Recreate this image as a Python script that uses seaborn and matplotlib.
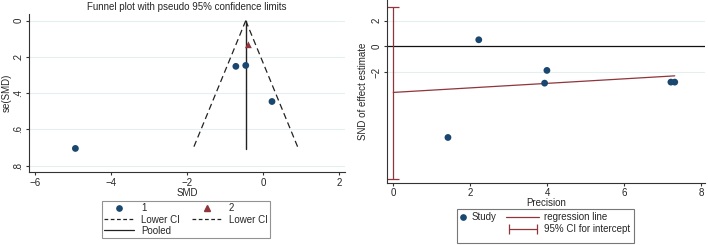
"""Funnel plot and Galbraith (radial) plot for small-study effects."""
import matplotlib
matplotlib.use("Agg")
import matplotlib.pyplot as plt
import numpy as np
import pandas as pd
import seaborn as sns
from matplotlib.lines import Line2D
from matplotlib.patches import Rectangle
from matplotlib.legend_handler import HandlerLine2D

# funnel plot data
smd = [-4.94, -0.72, -0.46, 0.23, -0.39]
se_smd = [0.705, 0.252, 0.247, 0.446, 0.133]
group = ["1", "1", "1", "1", "2"]
pooled = -0.46
se_max = 0.707

# Galbraith plot data
precision = [1.42, 2.22, 3.93, 3.99, 7.21, 7.31]
snd = [-7.08, 0.51, -2.86, -1.87, -2.78, -2.78]
reg_intercept = -3.58
reg_slope = 0.176
ci_low, ci_high = -10.27, 3.08

NAVY = "#1a476f"
MAROON = "#90353b"
GRID = "#e6eef0"
SPINE = "#333333"
FS = 7.0

sns.set_style("ticks")
plt.rcParams["font.family"] = ["Liberation Sans", "DejaVu Sans"]
plt.rcParams["font.size"] = FS

fig = plt.figure(figsize=(7.08, 2.45), dpi=100)
ax1 = fig.add_axes([29 / 708, 0.298, 316 / 708, 0.645])
ax2 = fig.add_axes([0.547, 0.254, 0.449, 0.746])


def style_axes(ax, label_x):
    for side in ("top", "right"):
        ax.spines[side].set_visible(False)
    for side in ("left", "bottom"):
        ax.spines[side].set_color(SPINE)
        ax.spines[side].set_linewidth(0.8)
    ax.tick_params(length=2.5, width=0.8, color=SPINE, labelsize=FS, pad=1.5,
                   left=True, bottom=True)
    for lab in ax.get_yticklabels():
        lab.set_rotation(90)
        lab.set_va("center")
    ax.yaxis.set_label_coords(label_x, 0.5)


# ---- funnel plot
df1 = pd.DataFrame({"smd": smd, "se": se_smd, "group": group})
ax1.set_ylim(0.835, -0.037)
ax1.set_xlim(-6.16, 2.15)
ax1.set_yticks([0, 0.2, 0.4, 0.6, 0.8])
ax1.set_yticklabels(["0", ".2", ".4", ".6", ".8"])
ax1.set_xticks([-6, -4, -2, 0, 2])
for t in [0, 0.2, 0.4, 0.6, 0.8]:
    ax1.axhline(t, color=GRID, lw=0.8, zorder=0)

se_line = [0, se_max]
sns.lineplot(x=[pooled, pooled - 1.96 * se_max], y=se_line, ax=ax1, color="#222222",
             lw=0.9, linestyle=(0, (5, 3)), sort=False)
sns.lineplot(x=[pooled, pooled + 1.96 * se_max], y=se_line, ax=ax1, color="#222222",
             lw=0.9, linestyle=(0, (5, 3)), sort=False)
sns.lineplot(x=[pooled, pooled], y=se_line, ax=ax1, color="#222222", lw=1.0,
             sort=False, orient="y")
sns.scatterplot(data=df1, x="smd", y="se", hue="group", style="group",
                markers={"1": "o", "2": "^"}, palette={"1": NAVY, "2": MAROON},
                s=24, edgecolor="none", ax=ax1, legend=False, zorder=3)
ax1.set_xlabel("SMD", labelpad=0)
ax1.set_ylabel("se(SMD)")
ax1.set_title("Funnel plot with pseudo 95% confidence limits", fontsize=FS, pad=3)
style_axes(ax1, -0.054)

h1 = [
    Line2D([], [], marker="o", color=NAVY, ls="none", ms=3.8),
    Line2D([], [], color="#222222", lw=0.9, ls=(0, (3, 2))),
    Line2D([], [], color="#222222", lw=0.9),
    Line2D([], [], marker="^", color=MAROON, ls="none", ms=3.8),
    Line2D([], [], color="#222222", lw=0.9, ls=(0, (3, 2))),
]
l1 = ["1", "Lower CI", "Pooled", "2", "Lower CI"]
leg1 = fig.legend(h1, l1, ncol=2, loc="lower left", bbox_to_anchor=(97 / 708, 2 / 245),
                  fontsize=FS, frameon=True, fancybox=False, edgecolor="#777777",
                  handlelength=3.1, columnspacing=1.2, borderpad=0.25, labelspacing=0.12,
                  handletextpad=0.7)
leg1.get_frame().set_linewidth(0.8)

# ---- Galbraith plot
df2 = pd.DataFrame({"precision": precision, "snd": snd})
ax2.set_xlim(-0.156, 8.1)
ax2.set_ylim(-10.6, 3.6)
ax2.set_xticks([0, 2, 4, 6, 8])
ax2.set_yticks([2, 0, -2])
for t in [2, -2]:
    ax2.axhline(t, color=GRID, lw=0.8, zorder=0)
ax2.axhline(0, color="#111111", lw=0.9, zorder=1)

xr = np.array([0, max(precision)])
sns.lineplot(x=xr, y=reg_intercept + reg_slope * xr, ax=ax2, color=MAROON, lw=0.9)
ax2.errorbar([0], [(ci_low + ci_high) / 2], yerr=[[(ci_high - ci_low) / 2]],
             color=MAROON, lw=0.9, capsize=4, capthick=0.9, fmt="none")
sns.scatterplot(data=df2, x="precision", y="snd", color=NAVY, s=24, edgecolor="none",
                ax=ax2, zorder=3)
ax2.set_xlabel("Precision", labelpad=0)
ax2.set_ylabel("SND of effect estimate")
style_axes(ax2, -0.061)

# right legend: two frameless legends inside one drawn box
fx0, fx1 = 457 / 708, 634 / 708
fy0, fy1 = 2 / 245, 36 / 245
fig.patches.append(Rectangle((fx0, fy0), fx1 - fx0, fy1 - fy0, transform=fig.transFigure,
                             fill=False, edgecolor="#777777", lw=0.8))
fig.legend([Line2D([], [], marker="o", color=NAVY, ls="none", ms=3.8)], ["Study"],
           loc="upper left", bbox_to_anchor=(fx0, fy1), fontsize=FS, frameon=False,
           handlelength=0.6, handletextpad=0.5, borderpad=0.35, borderaxespad=0.0)
ci_handle = Line2D([], [], color=MAROON, lw=0.9, marker="|", ms=7, mew=0.9)
fig.legend([Line2D([], [], color=MAROON, lw=0.9), ci_handle],
           ["regression line", "95% CI for intercept"],
           loc="upper left", bbox_to_anchor=(503 / 708, fy1), fontsize=FS, frameon=False,
           handlelength=3.4, handletextpad=0.5, borderpad=0.35, labelspacing=0.2,
           borderaxespad=0.0, handler_map={ci_handle: HandlerLine2D(numpoints=2)})

fig.savefig("out.png", dpi=100)
